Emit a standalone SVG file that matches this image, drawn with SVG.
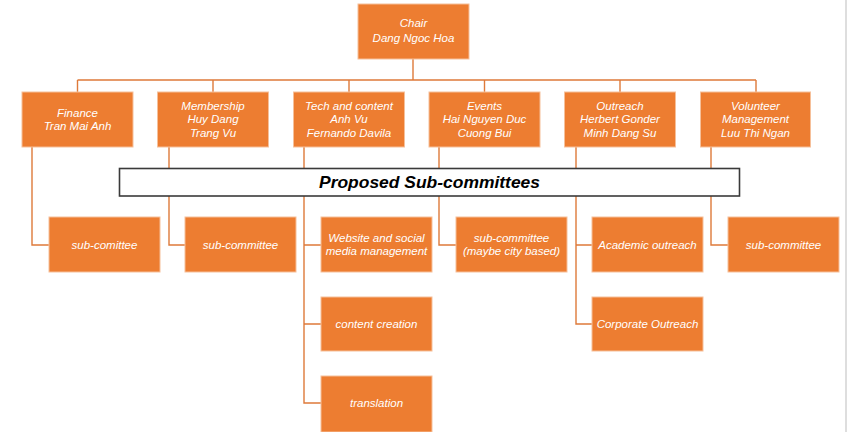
<svg xmlns="http://www.w3.org/2000/svg" width="847" height="432" viewBox="0 0 847 432">
<style>
.box{fill:#ED7D31;stroke:#F6C09A;stroke-width:1}
.t{font-family:"Liberation Sans",Arial,sans-serif;font-style:italic;font-size:11.5px;fill:#ffffff;text-anchor:middle}
.c{fill:none;stroke:#DE7A3A;stroke-width:1.4}
.title{font-family:"Liberation Sans",Arial,sans-serif;font-style:italic;font-weight:bold;font-size:17px;fill:#000000;text-anchor:middle}
</style>
<rect x="0" y="0" width="847" height="432" fill="#ffffff"/>
<line x1="846" y1="0" x2="846" y2="432" stroke="#c8c8c8" stroke-width="1.2"/>
<g id="connectors">
<path class="c" d="M413,59 V80 M77.5,80 H756 M77.5,80 V92 M213,80 V92 M349,80 V92 M484.5,80 V92 M620,80 V92 M756,80 V92"/>
<path class="c" d="M32,147 V245 H49"/>
<path class="c" d="M169,147 V245 H185"/>
<path class="c" d="M304,147 V403 H321 M304,245 H321 M304,324 H321"/>
<path class="c" d="M439,147 V245 H456"/>
<path class="c" d="M576,147 V324 H592 M576,245 H592"/>
<path class="c" d="M711,147 V245 H728"/>
</g>
<g id="chair"><rect class="box" x="358" y="4" width="111" height="55"/><text class="t" x="413.5" y="27">Chair</text><text class="t" x="413.5" y="41.5">Dang Ngoc Hoa</text></g>
<g id="finance"><rect class="box" x="22" y="92" width="111" height="55"/><text class="t" x="77.5" y="116.5">Finance</text><text class="t" x="77.5" y="129.5">Tran Mai Anh</text></g>
<g id="membership"><rect class="box" x="157.5" y="92" width="111" height="55"/><text class="t" x="213" y="109.5">Membership</text><text class="t" x="213" y="123">Huy Dang</text><text class="t" x="213" y="136.5">Trang Vu</text></g>
<g id="tech"><rect class="box" x="293.5" y="92" width="111" height="55"/><text class="t" x="349" y="109.5">Tech and content</text><text class="t" x="349" y="123">Anh Vu</text><text class="t" x="349" y="136.5">Fernando Davila</text></g>
<g id="events"><rect class="box" x="429" y="92" width="111" height="55"/><text class="t" x="484.5" y="109.5">Events</text><text class="t" x="484.5" y="123">Hai Nguyen Duc</text><text class="t" x="484.5" y="136.5">Cuong Bui</text></g>
<g id="outreach"><rect class="box" x="564.5" y="92" width="111" height="55"/><text class="t" x="620" y="109.5">Outreach</text><text class="t" x="620" y="123">Herbert Gonder</text><text class="t" x="620" y="136.5">Minh Dang Su</text></g>
<g id="volunteer"><rect class="box" x="700.5" y="92" width="110" height="55"/><text class="t" x="755.5" y="109.5">Volunteer</text><text class="t" x="755.5" y="123">Management</text><text class="t" x="755.5" y="136.5">Luu Thi Ngan</text></g>
<g id="proposed"><rect x="119.5" y="168.5" width="620" height="27.5" fill="#ffffff" stroke="#3a3a3a" stroke-width="1.6"/><text class="title" x="429.5" y="188" textLength="221" lengthAdjust="spacingAndGlyphs">Proposed Sub-committees</text></g>
<g id="sub-finance"><rect class="box" x="49" y="217" width="111" height="55"/><text class="t" x="104.5" y="249">sub-comittee</text></g>
<g id="sub-membership"><rect class="box" x="185" y="217" width="111" height="55"/><text class="t" x="240.5" y="249">sub-committee</text></g>
<g id="sub-website"><rect class="box" x="321" y="217" width="111" height="55"/><text class="t" x="376.5" y="242">Website and social</text><text class="t" x="376.5" y="255">media management</text></g>
<g id="sub-content"><rect class="box" x="321" y="297" width="111" height="54"/><text class="t" x="376.5" y="328">content creation</text></g>
<g id="sub-translation"><rect class="box" x="321" y="376" width="111" height="56"/><text class="t" x="376.5" y="407">translation</text></g>
<g id="sub-events"><rect class="box" x="456" y="217" width="111" height="55"/><text class="t" x="511.5" y="242">sub-committee</text><text class="t" x="511.5" y="255">(maybe city based)</text></g>
<g id="sub-academic"><rect class="box" x="592" y="217" width="111" height="55"/><text class="t" x="647.5" y="249">Academic outreach</text></g>
<g id="sub-corporate"><rect class="box" x="592" y="297" width="111" height="54"/><text class="t" x="647.5" y="328">Corporate Outreach</text></g>
<g id="sub-volunteer"><rect class="box" x="728" y="217" width="111" height="55"/><text class="t" x="783.5" y="249">sub-committee</text></g>
</svg>
